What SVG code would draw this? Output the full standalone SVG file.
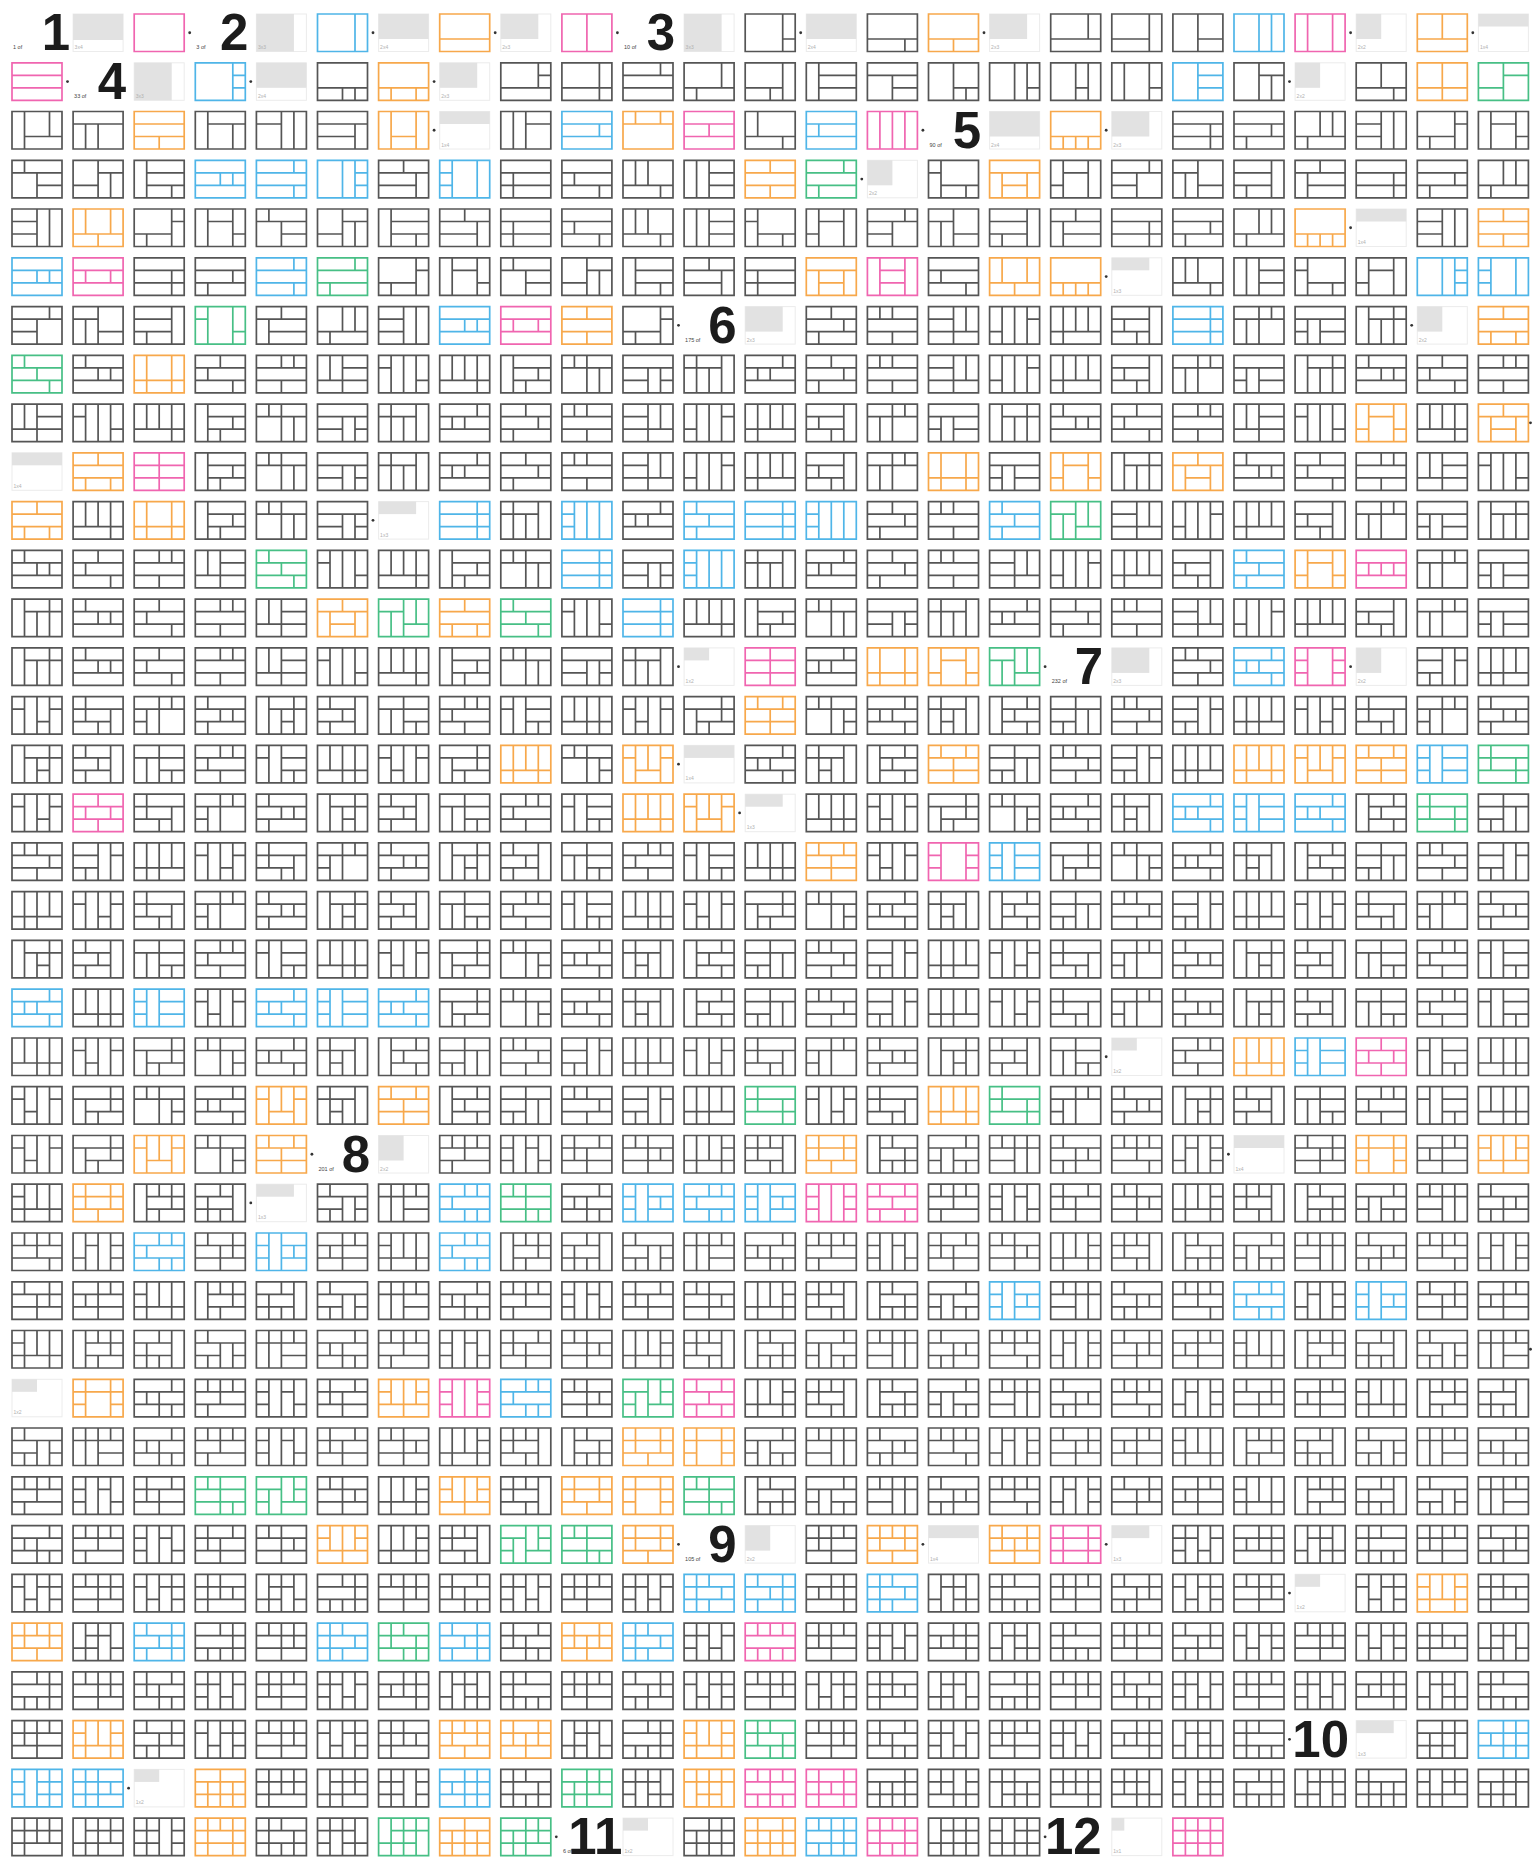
<svg xmlns="http://www.w3.org/2000/svg" xmlns:xlink="http://www.w3.org/1999/xlink" width="1532" height="1864" viewBox="0 0 1532 1864">
<style>
.t{fill:none;stroke-width:.136}
.o{stroke:#f7a84b}.b{stroke:#4fb5e8}.n{stroke:#47bf85}.p{stroke:#f065b0}
.sw{fill:#fff;stroke:#ececec;stroke-width:1}
.sf{fill:#e2e2e2}
.st{font-family:"Liberation Sans",Arial,sans-serif;font-size:5px;fill:#b0b0b0}
.lt{font-family:"Liberation Sans",Arial,sans-serif;font-size:5.5px;fill:#444}
.big{font-family:"Liberation Sans",Arial,sans-serif;font-size:51px;font-weight:700;fill:#1c1c1c;text-anchor:end}
.d{fill:#333}
</style>
<rect width="1532" height="1864" fill="#fff"/>
<defs>
<path id="p1" class="t" transform="scale(12.5)" d="M0 0H4V3H0Z"/>
<path id="b2" class="t" transform="scale(12.5)" d="M0 0H4V3H0ZM3 0V3"/>
<path id="o2" class="t" transform="scale(12.5)" d="M0 0H4V3H0ZM0 2H4"/>
<path id="p2" class="t" transform="scale(12.5)" d="M0 0H4V3H0ZM2 0V3"/>
<path id="g3a" class="t" transform="scale(12.5)" d="M0 0H4V3H0ZM3 0V3M3 2H4"/>
<path id="g3b" class="t" transform="scale(12.5)" d="M0 0H4V3H0ZM0 2H4M3 2V3"/>
<path id="o3a" class="t" transform="scale(12.5)" d="M0 0H4V3H0ZM0 2H4M2 2V3"/>
<path id="g3c" class="t" transform="scale(12.5)" d="M0 0H4V3H0ZM0 2H4M3 0V2"/>
<path id="g3d" class="t" transform="scale(12.5)" d="M0 0H4V3H0ZM3 0V3M0 2H3"/>
<path id="g3e" class="t" transform="scale(12.5)" d="M0 0H4V3H0ZM2 0V3M2 2H4"/>
<path id="b3" class="t" transform="scale(12.5)" d="M0 0H4V3H0ZM2 0V3M3 0V3"/>
<path id="p3a" class="t" transform="scale(12.5)" d="M0 0H4V3H0ZM1 0V3M3 0V3"/>
<path id="o3b" class="t" transform="scale(12.5)" d="M0 0H4V3H0ZM0 2H4M2 0V2"/>
<path id="p3b" class="t" transform="scale(12.5)" d="M0 0H4V3H0ZM0 1H4M0 2H4"/>
<path id="g4a" class="t" transform="scale(12.5)" d="M0 0H4V3H0ZM0 2H4M3 2V3M2 2V3"/>
<path id="g4b" class="t" transform="scale(12.5)" d="M0 0H4V3H0ZM0 2H4M3 0V2M3 1H4"/>
<path id="g4c" class="t" transform="scale(12.5)" d="M0 0H4V3H0ZM0 2H4M3 0V3"/>
<path id="g4d" class="t" transform="scale(12.5)" d="M0 0H4V3H0ZM0 2H4M3 0V2M1 2V3"/>
<path id="g4e" class="t" transform="scale(12.5)" d="M0 0H4V3H0ZM3 0V3M0 2H3M2 2V3"/>
<path id="g4f" class="t" transform="scale(12.5)" d="M0 0H4V3H0ZM2 0V3M2 2H4M3 2V3"/>
<path id="g4g" class="t" transform="scale(12.5)" d="M0 0H4V3H0ZM2 0V3M3 0V3M3 2H4"/>
<path id="g4h" class="t" transform="scale(12.5)" d="M0 0H4V3H0ZM2 0V3M3 0V3M2 2H3"/>
<path id="g4i" class="t" transform="scale(12.5)" d="M0 0H4V3H0ZM1 0V3M3 0V3M3 2H4"/>
<path id="g4j" class="t" transform="scale(12.5)" d="M0 0H4V3H0ZM2 0V3M2 1H4M3 1V3"/>
<path id="g4k" class="t" transform="scale(12.5)" d="M0 0H4V3H0ZM0 2H4M2 0V2M3 2V3"/>
<path id="g4l" class="t" transform="scale(12.5)" d="M0 0H4V3H0ZM0 1H4M0 2H4M3 0V1"/>
<path id="g4m" class="t" transform="scale(12.5)" d="M0 0H4V3H0ZM1 0V3M1 1H4M1 2H4"/>
<path id="g4n" class="t" transform="scale(12.5)" d="M0 0H4V3H0ZM0 1H4M2 1V3M2 2H4"/>
<path id="g4o" class="t" transform="scale(12.5)" d="M0 0H4V3H0ZM1 0V3M1 2H4M3 0V2"/>
<path id="g4p" class="t" transform="scale(12.5)" d="M0 0H4V3H0ZM0 1H4M1 1V3M2 1V3"/>
<path id="g4q" class="t" transform="scale(12.5)" d="M0 0H4V3H0ZM1 0V3M1 1H4M3 1V3"/>
<path id="g4r" class="t" transform="scale(12.5)" d="M0 0H4V3H0ZM2 0V3M0 1H2M3 0V3"/>
<path id="g4s" class="t" transform="scale(12.5)" d="M0 0H4V3H0ZM0 1H4M3 1V3M0 2H3"/>
<path id="g4t" class="t" transform="scale(12.5)" d="M0 0H4V3H0ZM1 0V3M2 0V3M2 1H4"/>
<path id="g4u" class="t" transform="scale(12.5)" d="M0 0H4V3H0ZM0 2H4M1 0V2M3 2V3"/>
<path id="o4a" class="t" transform="scale(12.5)" d="M0 0H4V3H0ZM0 2H4M1 2V3M3 2V3"/>
<path id="o4b" class="t" transform="scale(12.5)" d="M0 0H4V3H0ZM2 0V3M0 2H4"/>
<path id="o4c" class="t" transform="scale(12.5)" d="M0 0H4V3H0ZM0 1H4M0 2H4M2 2V3"/>
<path id="o4d" class="t" transform="scale(12.5)" d="M0 0H4V3H0ZM1 0V3M3 0V3M1 2H3"/>
<path id="o4e" class="t" transform="scale(12.5)" d="M0 0H4V3H0ZM0 1H4M1 0V1M3 0V1"/>
<path id="b4a" class="t" transform="scale(12.5)" d="M0 0H4V3H0ZM3 0V3M3 1H4M3 2H4"/>
<path id="b4b" class="t" transform="scale(12.5)" d="M0 0H4V3H0ZM2 0V3M2 1H4M2 2H4"/>
<path id="b4c" class="t" transform="scale(12.5)" d="M0 0H4V3H0ZM0 1H4M0 2H4M3 1V2"/>
<path id="b4d" class="t" transform="scale(12.5)" d="M0 0H4V3H0ZM0 1H4M0 2H4M1 1V2"/>
<path id="n4" class="t" transform="scale(12.5)" d="M0 0H4V3H0ZM2 0V3M2 1H4M0 2H2"/>
<path id="p4a" class="t" transform="scale(12.5)" d="M0 0H4V3H0ZM1 0V3M2 0V3M3 0V3"/>
<path id="p4b" class="t" transform="scale(12.5)" d="M0 0H4V3H0ZM0 1H4M0 2H4M2 1V2"/>
<path id="g5a" class="t" transform="scale(12.5)" d="M0 0H4V3H0ZM0 1H4M0 2H4M3 1V3"/>
<path id="g5b" class="t" transform="scale(12.5)" d="M0 0H4V3H0ZM0 1H4M0 2H4M3 1V2M1 2V3"/>
<path id="g5c" class="t" transform="scale(12.5)" d="M0 0H4V3H0ZM0 2H4M2 0V2M3 0V2M1 2V3"/>
<path id="g5d" class="t" transform="scale(12.5)" d="M0 0H4V3H0ZM2 0V3M3 0V3M0 1H2M0 2H2"/>
<path id="g5e" class="t" transform="scale(12.5)" d="M0 0H4V3H0ZM3 0V3M0 2H3M1 2V3M3 1H4"/>
<path id="g5f" class="t" transform="scale(12.5)" d="M0 0H4V3H0ZM1 0V3M3 0V3M1 1H3M3 2H4"/>
<path id="g5g" class="t" transform="scale(12.5)" d="M0 0H4V3H0ZM0 1H4M1 0V1M2 1V3M2 2H4"/>
<path id="g5h" class="t" transform="scale(12.5)" d="M0 0H4V3H0ZM2 0V3M0 2H2M2 1H4M3 1V3"/>
<path id="g5i" class="t" transform="scale(12.5)" d="M0 0H4V3H0ZM1 0V3M1 1H4M1 2H4M3 2V3"/>
<path id="g5j" class="t" transform="scale(12.5)" d="M0 0H4V3H0ZM0 1H4M2 0V1M3 1V3M0 2H3"/>
<path id="o5a" class="t" transform="scale(12.5)" d="M0 0H4V3H0ZM0 2H4M1 2V3M2 2V3M3 2V3"/>
<path id="o5b" class="t" transform="scale(12.5)" d="M0 0H4V3H0ZM0 1H4M0 2H4M2 0V1M2 2V3"/>
<path id="o5c" class="t" transform="scale(12.5)" d="M0 0H4V3H0ZM0 1H4M1 1V3M3 1V3M1 2H3"/>
<path id="o5d" class="t" transform="scale(12.5)" d="M0 0H4V3H0ZM0 2H4M1 0V2M3 0V2M2 2V3"/>
<path id="b5a" class="t" transform="scale(12.5)" d="M0 0H4V3H0ZM0 1H4M0 2H4M2 1V2M3 1V2"/>
<path id="b5b" class="t" transform="scale(12.5)" d="M0 0H4V3H0ZM0 1H4M0 2H4M3 0V1M3 2V3"/>
<path id="b5c" class="t" transform="scale(12.5)" d="M0 0H4V3H0ZM2 0V3M3 0V3M3 1H4M3 2H4"/>
<path id="b5d" class="t" transform="scale(12.5)" d="M0 0H4V3H0ZM1 0V3M3 0V3M0 1H1M0 2H1"/>
<path id="n5a" class="t" transform="scale(12.5)" d="M0 0H4V3H0ZM0 1H4M0 2H4M3 0V1M1 2V3"/>
<path id="n5b" class="t" transform="scale(12.5)" d="M0 0H4V3H0ZM1 0V3M3 0V3M0 1H1M3 2H4"/>
<path id="p5a" class="t" transform="scale(12.5)" d="M0 0H4V3H0ZM0 1H4M0 2H4M1 1V2M3 1V2"/>
<path id="p5b" class="t" transform="scale(12.5)" d="M0 0H4V3H0ZM1 0V3M3 0V3M1 1H3M1 2H3"/>
<path id="g6a" class="t" transform="scale(12.5)" d="M0 0H4V3H0ZM0 1H4M0 2H4M2 0V1M3 1V2M1 2V3"/>
<path id="g6b" class="t" transform="scale(12.5)" d="M0 0H4V3H0ZM0 1H4M0 2H4M1 0V1M2 0V1M2 2V3"/>
<path id="g6c" class="t" transform="scale(12.5)" d="M0 0H4V3H0ZM2 0V3M0 1H2M0 2H2M2 2H4M3 0V2"/>
<path id="g6d" class="t" transform="scale(12.5)" d="M0 0H4V3H0ZM1 0V3M2 0V3M3 0V3M3 1H4M0 2H1"/>
<path id="g6e" class="t" transform="scale(12.5)" d="M0 0H4V3H0ZM0 2H4M1 0V2M2 0V2M3 0V2M1 2V3"/>
<path id="g6f" class="t" transform="scale(12.5)" d="M0 0H4V3H0ZM3 0V3M0 1H3M0 2H3M1 1V2M2 2V3"/>
<path id="g6g" class="t" transform="scale(12.5)" d="M0 0H4V3H0ZM2 0V3M0 1H2M1 1V3M2 1H4M3 0V1"/>
<path id="g6h" class="t" transform="scale(12.5)" d="M0 0H4V3H0ZM0 1H4M1 1V3M0 2H1M2 1V3M2 2H4"/>
<path id="g6i" class="t" transform="scale(12.5)" d="M0 0H4V3H0ZM1 0V3M1 1H4M2 1V3M3 1V3M3 0V1"/>
<path id="g6j" class="t" transform="scale(12.5)" d="M0 0H4V3H0ZM0 1H4M0 2H4M1 0V1M2 1V2M3 1V2"/>
<path id="o6a" class="t" transform="scale(12.5)" d="M0 0H4V3H0ZM0 1H4M0 2H4M2 0V1M1 2V3M3 2V3"/>
<path id="o6b" class="t" transform="scale(12.5)" d="M0 0H4V3H0ZM0 2H4M1 0V2M3 0V2M1 2V3M3 2V3"/>
<path id="o6c" class="t" transform="scale(12.5)" d="M0 0H4V3H0ZM1 0V3M3 0V3M1 1H3M0 2H1M3 2H4"/>
<path id="o6d" class="t" transform="scale(12.5)" d="M0 0H4V3H0ZM0 1H4M2 0V1M1 1V3M3 1V3M1 2H3"/>
<path id="b6a" class="t" transform="scale(12.5)" d="M0 0H4V3H0ZM3 0V3M0 1H4M0 2H4"/>
<path id="b6b" class="t" transform="scale(12.5)" d="M0 0H4V3H0ZM1 0V3M2 0V3M0 1H1M0 2H1M3 0V3"/>
<path id="b6c" class="t" transform="scale(12.5)" d="M0 0H4V3H0ZM0 1H4M0 2H4M1 0V1M1 2V3M2 1V2"/>
<path id="n6a" class="t" transform="scale(12.5)" d="M0 0H4V3H0ZM0 1H4M0 2H4M1 0V1M3 2V3M2 1V2"/>
<path id="n6b" class="t" transform="scale(12.5)" d="M0 0H4V3H0ZM2 0V3M0 1H2M2 2H4M1 1V3M3 0V2"/>
<path id="p6a" class="t" transform="scale(12.5)" d="M0 0H4V3H0ZM2 0V3M0 1H4M0 2H4"/>
<path id="p6b" class="t" transform="scale(12.5)" d="M0 0H4V3H0ZM0 1H4M0 2H4M1 1V2M2 1V2M3 1V2"/>
<path id="g7a" class="t" transform="scale(12.5)" d="M0 0H4V3H0ZM0 1H4M0 2H4M1 0V1M2 0V1M3 1V2M2 2V3"/>
<path id="g7b" class="t" transform="scale(12.5)" d="M0 0H4V3H0ZM2 0V3M0 1H2M0 2H2M1 2V3M3 0V3M3 1H4"/>
<path id="g7c" class="t" transform="scale(12.5)" d="M0 0H4V3H0ZM0 2H4M1 0V2M2 0V2M3 0V2M1 2V3M2 2V3"/>
<path id="g7d" class="t" transform="scale(12.5)" d="M0 0H4V3H0ZM1 0V3M2 0V3M3 0V3M0 1H1M2 2H3M3 1H4"/>
<path id="g7e" class="t" transform="scale(12.5)" d="M0 0H4V3H0ZM0 1H4M3 1V3M0 2H3M1 1V2M2 2V3M1 0V1"/>
<path id="g7f" class="t" transform="scale(12.5)" d="M0 0H4V3H0ZM2 0V3M0 1H2M1 1V3M0 2H1M2 1H4M3 0V1"/>
<path id="g7g" class="t" transform="scale(12.5)" d="M0 0H4V3H0ZM0 1H4M0 2H4M1 0V1M2 1V2M3 1V2M1 2V3"/>
<path id="g7h" class="t" transform="scale(12.5)" d="M0 0H4V3H0ZM1 0V3M1 1H4M2 1V3M3 1V3M3 0V1M2 2H3"/>
<path id="g7i" class="t" transform="scale(12.5)" d="M0 0H4V3H0ZM3 0V3M0 1H3M0 2H3M1 0V1M2 1V2M1 2V3"/>
<path id="g7j" class="t" transform="scale(12.5)" d="M0 0H4V3H0ZM2 0V3M0 1H4M2 2H4M1 1V3M3 2V3"/>
<path id="o7a" class="t" transform="scale(12.5)" d="M0 0H4V3H0ZM0 1H4M0 2H4M1 0V1M3 0V1M2 1V2M2 2V3"/>
<path id="o7b" class="t" transform="scale(12.5)" d="M0 0H4V3H0ZM0 2H4M1 0V2M2 0V2M3 0V2M1 2V3M3 2V3"/>
<path id="o7c" class="t" transform="scale(12.5)" d="M0 0H4V3H0ZM1 0V3M3 0V3M0 1H1M3 1H4M1 2H3M2 0V2"/>
<path id="b7a" class="t" transform="scale(12.5)" d="M0 0H4V3H0ZM0 1H4M0 2H4M3 0V1M3 2V3M1 1V2M2 1V2"/>
<path id="b7b" class="t" transform="scale(12.5)" d="M0 0H4V3H0ZM1 0V3M2 0V3M0 1H1M0 2H1M2 1H4M2 2H4"/>
<path id="n7a" class="t" transform="scale(12.5)" d="M0 0H4V3H0ZM0 1H4M0 2H4M1 0V1M3 2V3M1 1V2M3 1V2"/>
<path id="p7a" class="t" transform="scale(12.5)" d="M0 0H4V3H0ZM1 0V3M3 0V3M0 1H1M0 2H1M3 1H4M3 2H4"/>
<path id="p7b" class="t" transform="scale(12.5)" d="M0 0H4V3H0ZM0 1H4M0 2H4M2 0V1M2 2V3M1 1V2M3 1V2"/>
<path id="g8a" class="t" transform="scale(12.5)" d="M0 0H4V3H0ZM0 1H4M0 2H4M1 0V1M2 0V1M3 0V1M2 1V2M1 2V3"/>
<path id="g8b" class="t" transform="scale(12.5)" d="M0 0H4V3H0ZM1 0V3M2 0V3M3 0V3M0 1H1M0 2H1M2 1H3M3 2H4"/>
<path id="g8c" class="t" transform="scale(12.5)" d="M0 0H4V3H0ZM0 1H4M0 2H4M1 0V1M3 0V1M1 1V2M2 1V2M2 2V3"/>
<path id="g8d" class="t" transform="scale(12.5)" d="M0 0H4V3H0ZM2 0V3M0 1H4M0 2H4M1 0V1M3 1V2"/>
<path id="g8e" class="t" transform="scale(12.5)" d="M0 0H4V3H0ZM0 2H4M1 0V3M2 0V2M3 0V3M3 1H4"/>
<path id="g8f" class="t" transform="scale(12.5)" d="M0 0H4V3H0ZM3 0V3M0 1H3M0 2H3M1 0V1M2 0V1M1 1V2M2 2V3"/>
<path id="g8g" class="t" transform="scale(12.5)" d="M0 0H4V3H0ZM1 0V3M1 1H4M1 2H4M2 0V1M3 1V2M2 2V3M3 2V3"/>
<path id="g8h" class="t" transform="scale(12.5)" d="M0 0H4V3H0ZM0 1H4M1 1V3M2 1V3M0 2H1M3 0V1M2 2H4M3 2V3"/>
<path id="g8i" class="t" transform="scale(12.5)" d="M0 0H4V3H0ZM2 0V3M0 1H2M0 2H2M1 0V1M2 1H4M3 0V3"/>
<path id="g8j" class="t" transform="scale(12.5)" d="M0 0H4V3H0ZM0 1H4M0 2H4M1 0V1M2 1V2M3 1V2M1 2V3M2 2V3"/>
<path id="o8a" class="t" transform="scale(12.5)" d="M0 0H4V3H0ZM0 1H4M0 2H4M1 0V1M3 0V1M1 1V2M3 1V2M2 2V3"/>
<path id="o8b" class="t" transform="scale(12.5)" d="M0 0H4V3H0ZM1 0V3M3 0V3M0 1H1M0 2H1M3 1H4M3 2H4M1 1H3"/>
<path id="o8c" class="t" transform="scale(12.5)" d="M0 0H4V3H0ZM0 2H4M1 0V2M2 0V2M3 0V2M0 1H1M3 1H4M2 2V3"/>
<path id="b8a" class="t" transform="scale(12.5)" d="M0 0H4V3H0ZM0 1H4M0 2H4M2 0V1M3 0V1M2 2V3M3 2V3M1 1V2"/>
<path id="b8b" class="t" transform="scale(12.5)" d="M0 0H4V3H0ZM1 0V3M2 0V3M0 1H1M0 2H1M2 1H4M2 2H4M3 1V2"/>
<path id="n8a" class="t" transform="scale(12.5)" d="M0 0H4V3H0ZM0 1H4M0 2H4M1 0V1M2 0V1M2 2V3M3 2V3M2 1V2"/>
<path id="n8b" class="t" transform="scale(12.5)" d="M0 0H4V3H0ZM2 0V3M0 1H2M2 2H4M1 1V3M3 0V2M0 2H1M3 1H4"/>
<path id="p8a" class="t" transform="scale(12.5)" d="M0 0H4V3H0ZM1 0V3M2 0V3M3 0V3M0 1H1M0 2H1M3 1H4M3 2H4"/>
<path id="p8b" class="t" transform="scale(12.5)" d="M0 0H4V3H0ZM0 1H4M0 2H4M1 0V1M3 0V1M1 2V3M3 2V3M2 1V2"/>
<path id="g9a" class="t" transform="scale(12.5)" d="M0 0H4V3H0ZM0 1H4M0 2H4M1 0V1M2 0V1M3 0V1M1 1V2M2 1V2M2 2V3"/>
<path id="g9b" class="t" transform="scale(12.5)" d="M0 0H4V3H0ZM1 0V3M2 0V3M3 0V3M0 1H1M0 2H1M1 1H2M2 2H3M3 1H4"/>
<path id="g9c" class="t" transform="scale(12.5)" d="M0 0H4V3H0ZM0 1H4M0 2H4M2 0V1M3 0V1M1 1V2M2 1V2M3 1V2M3 2V3"/>
<path id="g9d" class="t" transform="scale(12.5)" d="M0 0H4V3H0ZM1 0V3M2 0V3M3 0V3M0 2H1M1 1H2M2 1H3M2 2H3M3 2H4"/>
<path id="g9e" class="t" transform="scale(12.5)" d="M0 0H4V3H0ZM0 1H4M0 2H4M1 0V1M2 0V1M1 1V2M1 2V3M2 2V3M3 2V3"/>
<path id="g9f" class="t" transform="scale(12.5)" d="M0 0H4V3H0ZM2 0V3M0 1H4M0 2H4M1 0V1M3 0V1M1 1V2"/>
<path id="g9g" class="t" transform="scale(12.5)" d="M0 0H4V3H0ZM0 1H4M0 2H4M1 0V1M3 0V1M2 1V2M3 1V2M1 2V3M2 2V3"/>
<path id="g9h" class="t" transform="scale(12.5)" d="M0 0H4V3H0ZM1 0V3M2 0V3M3 0V3M0 1H1M1 2H2M2 1H3M3 1H4M3 2H4"/>
<path id="o9a" class="t" transform="scale(12.5)" d="M0 0H4V3H0ZM0 1H4M0 2H4M1 0V1M2 0V1M3 0V1M1 1V2M3 1V2M2 2V3"/>
<path id="o9b" class="t" transform="scale(12.5)" d="M0 0H4V3H0ZM0 1H4M0 2H4M1 0V1M3 0V1M1 1V2M2 1V2M3 1V2M2 2V3"/>
<path id="o9c" class="t" transform="scale(12.5)" d="M0 0H4V3H0ZM0 2H4M1 0V3M2 0V2M3 0V3M0 1H1M3 1H4"/>
<path id="b9a" class="t" transform="scale(12.5)" d="M0 0H4V3H0ZM0 1H4M0 2H4M1 0V1M2 0V1M1 2V3M2 2V3M1 1V2M3 1V2"/>
<path id="b9b" class="t" transform="scale(12.5)" d="M0 0H4V3H0ZM0 1H4M0 2H4M1 0V1M3 0V1M2 1V2M3 1V2M1 2V3M3 2V3"/>
<path id="n9a" class="t" transform="scale(12.5)" d="M0 0H4V3H0ZM0 1H4M0 2H4M1 0V1M2 0V1M2 2V3M3 2V3M1 1V2M3 1V2"/>
<path id="p9a" class="t" transform="scale(12.5)" d="M0 0H4V3H0ZM0 1H4M0 2H4M1 0V1M3 0V1M1 2V3M3 2V3M1 1V2M3 1V2"/>
<path id="p9b" class="t" transform="scale(12.5)" d="M0 0H4V3H0ZM0 1H4M0 2H4M1 0V1M2 0V1M3 0V1M1 2V3M2 2V3M3 2V3"/>
<path id="g10a" class="t" transform="scale(12.5)" d="M0 0H4V3H0ZM1 1V3M2 0V3M3 0V3M0 1H4M0 2H3"/>
<path id="g10b" class="t" transform="scale(12.5)" d="M0 0H4V3H0ZM1 0V3M2 0V2M3 0V2M0 1H4M0 2H4"/>
<path id="g10c" class="t" transform="scale(12.5)" d="M0 0H4V3H0ZM1 0V3M2 0V3M3 0V2M1 1H4M0 2H4"/>
<path id="g10d" class="t" transform="scale(12.5)" d="M0 0H4V3H0ZM1 0V3M2 0V3M3 0V3M0 1H2M3 1H4M0 2H2M3 2H4"/>
<path id="g10e" class="t" transform="scale(12.5)" d="M0 0H4V3H0ZM1 0V3M2 0V1M2 2V3M3 1V3M0 1H4M0 2H4"/>
<path id="g10f" class="t" transform="scale(12.5)" d="M0 0H4V3H0ZM1 0V3M2 0V3M3 0V3M0 1H3M0 2H1M2 2H4"/>
<path id="g10g" class="t" transform="scale(12.5)" d="M0 0H4V3H0ZM1 1V3M2 1V3M3 0V3M0 1H4M0 2H4"/>
<path id="g10h" class="t" transform="scale(12.5)" d="M0 0H4V3H0ZM1 0V2M2 0V3M3 0V3M0 1H2M3 1H4M0 2H4"/>
<path id="o10a" class="t" transform="scale(12.5)" d="M0 0H4V3H0ZM1 1V3M2 0V3M3 1V3M0 1H4M0 2H4"/>
<path id="o10b" class="t" transform="scale(12.5)" d="M0 0H4V3H0ZM1 0V3M2 0V3M3 0V3M0 1H4M1 2H3"/>
<path id="o10c" class="t" transform="scale(12.5)" d="M0 0H4V3H0ZM1 0V3M2 0V1M3 0V3M0 1H4M0 2H4"/>
<path id="b10a" class="t" transform="scale(12.5)" d="M0 0H4V3H0ZM1 1V2M2 0V3M3 0V3M0 1H4M0 2H4"/>
<path id="b10b" class="t" transform="scale(12.5)" d="M0 0H4V3H0ZM1 0V3M2 0V3M3 0V3M0 1H1M2 1H4M0 2H1M2 2H4"/>
<path id="b10c" class="t" transform="scale(12.5)" d="M0 0H4V3H0ZM1 0V3M2 0V3M3 1V2M0 1H4M0 2H4"/>
<path id="n10a" class="t" transform="scale(12.5)" d="M0 0H4V3H0ZM1 1V3M2 0V3M3 0V2M0 1H4M0 2H4"/>
<path id="n10b" class="t" transform="scale(12.5)" d="M0 0H4V3H0ZM1 0V3M2 0V3M3 0V3M1 1H4M0 2H3"/>
<path id="p10a" class="t" transform="scale(12.5)" d="M0 0H4V3H0ZM1 0V1M1 2V3M2 0V3M3 0V1M3 2V3M0 1H4M0 2H4"/>
<path id="p10b" class="t" transform="scale(12.5)" d="M0 0H4V3H0ZM1 0V3M2 1V2M3 0V3M0 1H4M0 2H4"/>
<path id="g11a" class="t" transform="scale(12.5)" d="M0 0H4V3H0ZM1 1V3M2 0V3M3 0V3M0 1H4M0 2H4"/>
<path id="o11" class="t" transform="scale(12.5)" d="M0 0H4V3H0ZM1 0V3M2 1V3M3 0V3M0 1H4M0 2H4"/>
<path id="b11" class="t" transform="scale(12.5)" d="M0 0H4V3H0ZM1 0V1M1 2V3M2 0V3M3 0V3M0 1H4M0 2H4"/>
<path id="p11" class="t" transform="scale(12.5)" d="M0 0H4V3H0ZM1 0V3M2 0V1M2 2V3M3 0V3M0 1H4M0 2H4"/>
<path id="g11b" class="t" transform="scale(12.5)" d="M0 0H4V3H0ZM1 0V3M2 0V3M3 0V3M1 1H4M0 2H4"/>
<path id="g11c" class="t" transform="scale(12.5)" d="M0 0H4V3H0ZM1 0V3M2 0V3M3 0V3M0 1H1M2 1H4M0 2H4"/>
<path id="p12" class="t" transform="scale(12.5)" d="M0 0H4V3H0ZM1 0V3M2 0V3M3 0V3M0 1H4M0 2H4"/>
<use id="g5ah" href="#g5a" transform="matrix(-1 0 0 1 50 0)"/>
<use id="g5bh" href="#g5b" transform="matrix(-1 0 0 1 50 0)"/>
<use id="g5ch" href="#g5c" transform="matrix(-1 0 0 1 50 0)"/>
<use id="g5dh" href="#g5d" transform="matrix(-1 0 0 1 50 0)"/>
<use id="g5eh" href="#g5e" transform="matrix(-1 0 0 1 50 0)"/>
<use id="g5fh" href="#g5f" transform="matrix(-1 0 0 1 50 0)"/>
<use id="g5gh" href="#g5g" transform="matrix(-1 0 0 1 50 0)"/>
<use id="g5hh" href="#g5h" transform="matrix(-1 0 0 1 50 0)"/>
<use id="g5ih" href="#g5i" transform="matrix(-1 0 0 1 50 0)"/>
<use id="g5jh" href="#g5j" transform="matrix(-1 0 0 1 50 0)"/>
<use id="g6ah" href="#g6a" transform="matrix(-1 0 0 1 50 0)"/>
<use id="g6bh" href="#g6b" transform="matrix(-1 0 0 1 50 0)"/>
<use id="g6ch" href="#g6c" transform="matrix(-1 0 0 1 50 0)"/>
<use id="g6dh" href="#g6d" transform="matrix(-1 0 0 1 50 0)"/>
<use id="g6eh" href="#g6e" transform="matrix(-1 0 0 1 50 0)"/>
<use id="g6fh" href="#g6f" transform="matrix(-1 0 0 1 50 0)"/>
<use id="g6gh" href="#g6g" transform="matrix(-1 0 0 1 50 0)"/>
<use id="g6hh" href="#g6h" transform="matrix(-1 0 0 1 50 0)"/>
<use id="g6ih" href="#g6i" transform="matrix(-1 0 0 1 50 0)"/>
<use id="g6jh" href="#g6j" transform="matrix(-1 0 0 1 50 0)"/>
<use id="g7ah" href="#g7a" transform="matrix(-1 0 0 1 50 0)"/>
<use id="g7bh" href="#g7b" transform="matrix(-1 0 0 1 50 0)"/>
<use id="g7ch" href="#g7c" transform="matrix(-1 0 0 1 50 0)"/>
<use id="g7dh" href="#g7d" transform="matrix(-1 0 0 1 50 0)"/>
<use id="g7eh" href="#g7e" transform="matrix(-1 0 0 1 50 0)"/>
<use id="g7fh" href="#g7f" transform="matrix(-1 0 0 1 50 0)"/>
<use id="g7gh" href="#g7g" transform="matrix(-1 0 0 1 50 0)"/>
<use id="g7hh" href="#g7h" transform="matrix(-1 0 0 1 50 0)"/>
<use id="g7ih" href="#g7i" transform="matrix(-1 0 0 1 50 0)"/>
<use id="g7jh" href="#g7j" transform="matrix(-1 0 0 1 50 0)"/>
<use id="g8ah" href="#g8a" transform="matrix(-1 0 0 1 50 0)"/>
<use id="g8bh" href="#g8b" transform="matrix(-1 0 0 1 50 0)"/>
<use id="g8ch" href="#g8c" transform="matrix(-1 0 0 1 50 0)"/>
<use id="g8dh" href="#g8d" transform="matrix(-1 0 0 1 50 0)"/>
<use id="g8eh" href="#g8e" transform="matrix(-1 0 0 1 50 0)"/>
<use id="g8fh" href="#g8f" transform="matrix(-1 0 0 1 50 0)"/>
<use id="g8gh" href="#g8g" transform="matrix(-1 0 0 1 50 0)"/>
<use id="g8hh" href="#g8h" transform="matrix(-1 0 0 1 50 0)"/>
<use id="g8ih" href="#g8i" transform="matrix(-1 0 0 1 50 0)"/>
<use id="g8jh" href="#g8j" transform="matrix(-1 0 0 1 50 0)"/>
<use id="g9ah" href="#g9a" transform="matrix(-1 0 0 1 50 0)"/>
<use id="g9bh" href="#g9b" transform="matrix(-1 0 0 1 50 0)"/>
<use id="g9ch" href="#g9c" transform="matrix(-1 0 0 1 50 0)"/>
<use id="g9dh" href="#g9d" transform="matrix(-1 0 0 1 50 0)"/>
<use id="g9eh" href="#g9e" transform="matrix(-1 0 0 1 50 0)"/>
<use id="g9fh" href="#g9f" transform="matrix(-1 0 0 1 50 0)"/>
<use id="g9gh" href="#g9g" transform="matrix(-1 0 0 1 50 0)"/>
<use id="g9hh" href="#g9h" transform="matrix(-1 0 0 1 50 0)"/>
<use id="g10ah" href="#g10a" transform="matrix(-1 0 0 1 50 0)"/>
<use id="g10bh" href="#g10b" transform="matrix(-1 0 0 1 50 0)"/>
<use id="g10ch" href="#g10c" transform="matrix(-1 0 0 1 50 0)"/>
<use id="g10dh" href="#g10d" transform="matrix(-1 0 0 1 50 0)"/>
<use id="g10eh" href="#g10e" transform="matrix(-1 0 0 1 50 0)"/>
<use id="g10fh" href="#g10f" transform="matrix(-1 0 0 1 50 0)"/>
<use id="g10gh" href="#g10g" transform="matrix(-1 0 0 1 50 0)"/>
<use id="g10hh" href="#g10h" transform="matrix(-1 0 0 1 50 0)"/>
</defs>
<g id="tilings" stroke="#555">
<g id="row0" transform="translate(0,14)"><use href="#p1" x="134.2" class="p"/><use href="#b2" x="317.5" class="b"/><use href="#o2" x="439.7" class="o"/><use href="#p2" x="561.9" class="p"/><use href="#g3a" x="745.2"/><use href="#g3b" x="867.4"/><use href="#o3a" x="928.5" class="o"/><use href="#g3c" x="1050.7"/><use href="#g3d" x="1111.8"/><use href="#g3e" x="1172.9"/><use href="#b3" x="1234" class="b"/><use href="#p3a" x="1295.1" class="p"/><use href="#o3b" x="1417.3" class="o"/></g>
<g id="row1" transform="translate(0,62.8)"><use href="#p3b" x="12" class="p"/><use href="#b4a" x="195.3" class="b"/><use href="#g4a" x="317.5"/><use href="#o4a" x="378.6" class="o"/><use href="#g4b" x="500.8"/><use href="#g4c" x="561.9"/><use href="#g4l" x="623"/><use href="#g4d" x="684.1"/><use href="#g4e" x="745.2"/><use href="#g4m" x="806.3"/><use href="#g4n" x="867.4"/><use href="#g4f" x="928.5"/><use href="#g4g" x="989.6"/><use href="#g4h" x="1050.7"/><use href="#g4i" x="1111.8"/><use href="#b4b" x="1172.9" class="b"/><use href="#g4j" x="1234"/><use href="#g4k" x="1356.2"/><use href="#o4b" x="1417.3" class="o"/><use href="#n4" x="1478.4" class="n"/></g>
<g id="row2" transform="translate(0,111.5)"><use href="#g4o" x="12"/><use href="#g4p" x="73.1"/><use href="#o4c" x="134.2" class="o"/><use href="#g4q" x="195.3"/><use href="#g4r" x="256.4"/><use href="#g4s" x="317.5"/><use href="#o4d" x="378.6" class="o"/><use href="#g4t" x="500.8"/><use href="#b4c" x="561.9" class="b"/><use href="#o4e" x="623" class="o"/><use href="#p4b" x="684.1" class="p"/><use href="#g4u" x="745.2"/><use href="#b4d" x="806.3" class="b"/><use href="#p4a" x="867.4" class="p"/><use href="#o5a" x="1050.7" class="o"/><use href="#g5a" x="1172.9"/><use href="#g5b" x="1234"/><use href="#g5c" x="1295.1"/><use href="#g5d" x="1356.2"/><use href="#g5e" x="1417.3"/><use href="#g5f" x="1478.4"/></g>
<g id="row3" transform="translate(0,160.3)"><use href="#g5g" x="12"/><use href="#g5h" x="73.1"/><use href="#g5i" x="134.2"/><use href="#b5a" x="195.3" class="b"/><use href="#b5b" x="256.4" class="b"/><use href="#b5c" x="317.5" class="b"/><use href="#g5j" x="378.6"/><use href="#b5d" x="439.7" class="b"/><use href="#g5ah" x="500.8"/><use href="#g5bh" x="561.9"/><use href="#g5ch" x="623"/><use href="#g5dh" x="684.1"/><use href="#o5b" x="745.2" class="o"/><use href="#n5a" x="806.3" class="n"/><use href="#g5eh" x="928.5"/><use href="#o5c" x="989.6" class="o"/><use href="#g5fh" x="1050.7"/><use href="#g5gh" x="1111.8"/><use href="#g5hh" x="1172.9"/><use href="#g5ih" x="1234"/><use href="#g5jh" x="1295.1"/><use href="#g5a" x="1356.2"/><use href="#g5b" x="1417.3"/><use href="#g5c" x="1478.4"/></g>
<g id="row4" transform="translate(0,209)"><use href="#g5d" x="12"/><use href="#o5d" x="73.1" class="o"/><use href="#g5e" x="134.2"/><use href="#g5f" x="195.3"/><use href="#g5g" x="256.4"/><use href="#g5h" x="317.5"/><use href="#g5i" x="378.6"/><use href="#g5j" x="439.7"/><use href="#g5ah" x="500.8"/><use href="#g5bh" x="561.9"/><use href="#g5ch" x="623"/><use href="#g5dh" x="684.1"/><use href="#g5eh" x="745.2"/><use href="#g5fh" x="806.3"/><use href="#g5gh" x="867.4"/><use href="#g5hh" x="928.5"/><use href="#g5ih" x="989.6"/><use href="#g5jh" x="1050.7"/><use href="#g5a" x="1111.8"/><use href="#g5b" x="1172.9"/><use href="#g5c" x="1234"/><use href="#o5a" x="1295.1" class="o"/><use href="#g5d" x="1417.3"/><use href="#o5b" x="1478.4" class="o"/></g>
<g id="row5" transform="translate(0,257.8)"><use href="#b5a" x="12" class="b"/><use href="#p5a" x="73.1" class="p"/><use href="#g5a" x="134.2"/><use href="#g5b" x="195.3"/><use href="#b5b" x="256.4" class="b"/><use href="#n5a" x="317.5" class="n"/><use href="#g5e" x="378.6"/><use href="#g5f" x="439.7"/><use href="#g5g" x="500.8"/><use href="#g5h" x="561.9"/><use href="#g5i" x="623"/><use href="#g5j" x="684.1"/><use href="#g5ah" x="745.2"/><use href="#o5c" x="806.3" class="o"/><use href="#p5b" x="867.4" class="p"/><use href="#g5bh" x="928.5"/><use href="#o5d" x="989.6" class="o"/><use href="#o5a" x="1050.7" class="o"/><use href="#g5ch" x="1172.9"/><use href="#g5dh" x="1234"/><use href="#g5eh" x="1295.1"/><use href="#g5fh" x="1356.2"/><use href="#b5c" x="1417.3" class="b"/><use href="#b5d" x="1478.4" class="b"/></g>
<g id="row6" transform="translate(0,306.6)"><use href="#g5gh" x="12"/><use href="#g5hh" x="73.1"/><use href="#g5ih" x="134.2"/><use href="#n5b" x="195.3" class="n"/><use href="#g5jh" x="256.4"/><use href="#g5c" x="317.5"/><use href="#g5d" x="378.6"/><use href="#b5a" x="439.7" class="b"/><use href="#p5a" x="500.8" class="p"/><use href="#o5b" x="561.9" class="o"/><use href="#g5e" x="623"/><use href="#g6a" x="806.3"/><use href="#g6b" x="867.4"/><use href="#g6c" x="928.5"/><use href="#g6d" x="989.6"/><use href="#g6e" x="1050.7"/><use href="#g6f" x="1111.8"/><use href="#b6a" x="1172.9" class="b"/><use href="#g6g" x="1234"/><use href="#g6h" x="1295.1"/><use href="#g6i" x="1356.2"/><use href="#o6a" x="1478.4" class="o"/></g>
<g id="row7" transform="translate(0,355.3)"><use href="#n6a" x="12" class="n"/><use href="#g6j" x="73.1"/><use href="#o6b" x="134.2" class="o"/><use href="#g6ah" x="195.3"/><use href="#g6bh" x="256.4"/><use href="#g6ch" x="317.5"/><use href="#g6dh" x="378.6"/><use href="#g6eh" x="439.7"/><use href="#g6fh" x="500.8"/><use href="#g6gh" x="561.9"/><use href="#g6hh" x="623"/><use href="#g6ih" x="684.1"/><use href="#g6jh" x="745.2"/><use href="#g6a" x="806.3"/><use href="#g6b" x="867.4"/><use href="#g6c" x="928.5"/><use href="#g6d" x="989.6"/><use href="#g6e" x="1050.7"/><use href="#g6f" x="1111.8"/><use href="#g6g" x="1172.9"/><use href="#g6h" x="1234"/><use href="#g6i" x="1295.1"/><use href="#g6j" x="1356.2"/><use href="#g6ah" x="1417.3"/><use href="#g6bh" x="1478.4"/></g>
<g id="row8" transform="translate(0,404.1)"><use href="#g6ch" x="12"/><use href="#g6dh" x="73.1"/><use href="#g6eh" x="134.2"/><use href="#g6fh" x="195.3"/><use href="#g6gh" x="256.4"/><use href="#g6hh" x="317.5"/><use href="#g6ih" x="378.6"/><use href="#g6jh" x="439.7"/><use href="#g6a" x="500.8"/><use href="#g6b" x="561.9"/><use href="#g6c" x="623"/><use href="#g6d" x="684.1"/><use href="#g6e" x="745.2"/><use href="#g6f" x="806.3"/><use href="#g6g" x="867.4"/><use href="#g6h" x="928.5"/><use href="#g6i" x="989.6"/><use href="#g6j" x="1050.7"/><use href="#g6ah" x="1111.8"/><use href="#g6bh" x="1172.9"/><use href="#g6ch" x="1234"/><use href="#g6dh" x="1295.1"/><use href="#o6c" x="1356.2" class="o"/><use href="#g6eh" x="1417.3"/><use href="#o6d" x="1478.4" class="o"/></g>
<g id="row9" transform="translate(0,452.8)"><use href="#o6a" x="73.1" class="o"/><use href="#p6a" x="134.2" class="p"/><use href="#g6fh" x="195.3"/><use href="#g6gh" x="256.4"/><use href="#g6hh" x="317.5"/><use href="#g6ih" x="378.6"/><use href="#g6jh" x="439.7"/><use href="#g6a" x="500.8"/><use href="#g6b" x="561.9"/><use href="#g6c" x="623"/><use href="#g6d" x="684.1"/><use href="#g6e" x="745.2"/><use href="#g6f" x="806.3"/><use href="#g6g" x="867.4"/><use href="#o6b" x="928.5" class="o"/><use href="#g6h" x="989.6"/><use href="#o6c" x="1050.7" class="o"/><use href="#g6i" x="1111.8"/><use href="#o6d" x="1172.9" class="o"/><use href="#g6j" x="1234"/><use href="#g6ah" x="1295.1"/><use href="#g6bh" x="1356.2"/><use href="#g6ch" x="1417.3"/><use href="#g6dh" x="1478.4"/></g>
<g id="row10" transform="translate(0,501.6)"><use href="#o6a" x="12" class="o"/><use href="#g6eh" x="73.1"/><use href="#o6b" x="134.2" class="o"/><use href="#g6fh" x="195.3"/><use href="#g6gh" x="256.4"/><use href="#g6hh" x="317.5"/><use href="#b6a" x="439.7" class="b"/><use href="#g6ih" x="500.8"/><use href="#b6b" x="561.9" class="b"/><use href="#g6jh" x="623"/><use href="#b6c" x="684.1" class="b"/><use href="#b6a" x="745.2" class="b"/><use href="#b6b" x="806.3" class="b"/><use href="#g6a" x="867.4"/><use href="#g6b" x="928.5"/><use href="#b6c" x="989.6" class="b"/><use href="#n6b" x="1050.7" class="n"/><use href="#g6c" x="1111.8"/><use href="#g6d" x="1172.9"/><use href="#g6e" x="1234"/><use href="#g6f" x="1295.1"/><use href="#g6g" x="1356.2"/><use href="#g6h" x="1417.3"/><use href="#g6i" x="1478.4"/></g>
<g id="row11" transform="translate(0,550.4)"><use href="#g6j" x="12"/><use href="#g6ah" x="73.1"/><use href="#g6bh" x="134.2"/><use href="#g6ch" x="195.3"/><use href="#n6a" x="256.4" class="n"/><use href="#g6dh" x="317.5"/><use href="#g6eh" x="378.6"/><use href="#g6fh" x="439.7"/><use href="#g6gh" x="500.8"/><use href="#b6a" x="561.9" class="b"/><use href="#g6hh" x="623"/><use href="#b6b" x="684.1" class="b"/><use href="#g6ih" x="745.2"/><use href="#g6jh" x="806.3"/><use href="#g6a" x="867.4"/><use href="#g6b" x="928.5"/><use href="#g6c" x="989.6"/><use href="#g6d" x="1050.7"/><use href="#g6e" x="1111.8"/><use href="#g6f" x="1172.9"/><use href="#b6c" x="1234" class="b"/><use href="#o6c" x="1295.1" class="o"/><use href="#p6b" x="1356.2" class="p"/><use href="#g6g" x="1417.3"/><use href="#g6h" x="1478.4"/></g>
<g id="row12" transform="translate(0,599.1)"><use href="#g6i" x="12"/><use href="#g6j" x="73.1"/><use href="#g6ah" x="134.2"/><use href="#g6bh" x="195.3"/><use href="#g6ch" x="256.4"/><use href="#o6d" x="317.5" class="o"/><use href="#n6b" x="378.6" class="n"/><use href="#o6a" x="439.7" class="o"/><use href="#n6a" x="500.8" class="n"/><use href="#g6dh" x="561.9"/><use href="#b6a" x="623" class="b"/><use href="#g6eh" x="684.1"/><use href="#g6fh" x="745.2"/><use href="#g6gh" x="806.3"/><use href="#g6hh" x="867.4"/><use href="#g6ih" x="928.5"/><use href="#g6jh" x="989.6"/><use href="#g6a" x="1050.7"/><use href="#g6b" x="1111.8"/><use href="#g6c" x="1172.9"/><use href="#g6d" x="1234"/><use href="#g6e" x="1295.1"/><use href="#g6f" x="1356.2"/><use href="#g6g" x="1417.3"/><use href="#g6h" x="1478.4"/></g>
<g id="row13" transform="translate(0,647.9)"><use href="#g6i" x="12"/><use href="#g6j" x="73.1"/><use href="#g6ah" x="134.2"/><use href="#g6bh" x="195.3"/><use href="#g6ch" x="256.4"/><use href="#g6dh" x="317.5"/><use href="#g6eh" x="378.6"/><use href="#g6fh" x="439.7"/><use href="#g6gh" x="500.8"/><use href="#g6hh" x="561.9"/><use href="#g6ih" x="623"/><use href="#p6a" x="745.2" class="p"/><use href="#g6jh" x="806.3"/><use href="#o6b" x="867.4" class="o"/><use href="#o6c" x="928.5" class="o"/><use href="#n6b" x="989.6" class="n"/><use href="#g7a" x="1172.9"/><use href="#b7a" x="1234" class="b"/><use href="#p7a" x="1295.1" class="p"/><use href="#g7b" x="1417.3"/><use href="#g7c" x="1478.4"/></g>
<g id="row14" transform="translate(0,696.6)"><use href="#g7d" x="12"/><use href="#g7e" x="73.1"/><use href="#g7f" x="134.2"/><use href="#g7g" x="195.3"/><use href="#g7h" x="256.4"/><use href="#g7i" x="317.5"/><use href="#g7j" x="378.6"/><use href="#g7ah" x="439.7"/><use href="#g7bh" x="500.8"/><use href="#g7ch" x="561.9"/><use href="#g7dh" x="623"/><use href="#g7eh" x="684.1"/><use href="#o7a" x="745.2" class="o"/><use href="#g7fh" x="806.3"/><use href="#g7gh" x="867.4"/><use href="#g7hh" x="928.5"/><use href="#g7ih" x="989.6"/><use href="#g7jh" x="1050.7"/><use href="#g7a" x="1111.8"/><use href="#g7b" x="1172.9"/><use href="#g7c" x="1234"/><use href="#g7d" x="1295.1"/><use href="#g7e" x="1356.2"/><use href="#g7f" x="1417.3"/><use href="#g7g" x="1478.4"/></g>
<g id="row15" transform="translate(0,745.4)"><use href="#g7h" x="12"/><use href="#g7i" x="73.1"/><use href="#g7j" x="134.2"/><use href="#g7ah" x="195.3"/><use href="#g7bh" x="256.4"/><use href="#g7ch" x="317.5"/><use href="#g7dh" x="378.6"/><use href="#g7eh" x="439.7"/><use href="#o7b" x="500.8" class="o"/><use href="#g7fh" x="561.9"/><use href="#o7c" x="623" class="o"/><use href="#g7gh" x="745.2"/><use href="#g7hh" x="806.3"/><use href="#g7ih" x="867.4"/><use href="#o7a" x="928.5" class="o"/><use href="#g7jh" x="989.6"/><use href="#g7a" x="1050.7"/><use href="#g7b" x="1111.8"/><use href="#g7c" x="1172.9"/><use href="#o7b" x="1234" class="o"/><use href="#o7c" x="1295.1" class="o"/><use href="#o7a" x="1356.2" class="o"/><use href="#b7b" x="1417.3" class="b"/><use href="#n7a" x="1478.4" class="n"/></g>
<g id="row16" transform="translate(0,794.2)"><use href="#g7d" x="12"/><use href="#p7b" x="73.1" class="p"/><use href="#g7e" x="134.2"/><use href="#g7f" x="195.3"/><use href="#g7g" x="256.4"/><use href="#g7h" x="317.5"/><use href="#g7i" x="378.6"/><use href="#g7j" x="439.7"/><use href="#g7ah" x="500.8"/><use href="#g7bh" x="561.9"/><use href="#o7b" x="623" class="o"/><use href="#o7c" x="684.1" class="o"/><use href="#g7ch" x="806.3"/><use href="#g7dh" x="867.4"/><use href="#g7eh" x="928.5"/><use href="#g7fh" x="989.6"/><use href="#g7gh" x="1050.7"/><use href="#g7hh" x="1111.8"/><use href="#b7a" x="1172.9" class="b"/><use href="#b7b" x="1234" class="b"/><use href="#b7a" x="1295.1" class="b"/><use href="#g7ih" x="1356.2"/><use href="#n7a" x="1417.3" class="n"/><use href="#g7jh" x="1478.4"/></g>
<g id="row17" transform="translate(0,842.9)"><use href="#g7a" x="12"/><use href="#g7b" x="73.1"/><use href="#g7c" x="134.2"/><use href="#g7d" x="195.3"/><use href="#g7e" x="256.4"/><use href="#g7f" x="317.5"/><use href="#g7g" x="378.6"/><use href="#g7h" x="439.7"/><use href="#g7i" x="500.8"/><use href="#g7j" x="561.9"/><use href="#g7ah" x="623"/><use href="#g7bh" x="684.1"/><use href="#g7ch" x="745.2"/><use href="#o7a" x="806.3" class="o"/><use href="#g7dh" x="867.4"/><use href="#p7a" x="928.5" class="p"/><use href="#b7b" x="989.6" class="b"/><use href="#g7eh" x="1050.7"/><use href="#g7fh" x="1111.8"/><use href="#g7gh" x="1172.9"/><use href="#g7hh" x="1234"/><use href="#g7ih" x="1295.1"/><use href="#g7jh" x="1356.2"/><use href="#g7a" x="1417.3"/><use href="#g7b" x="1478.4"/></g>
<g id="row18" transform="translate(0,891.7)"><use href="#g7c" x="12"/><use href="#g7d" x="73.1"/><use href="#g7e" x="134.2"/><use href="#g7f" x="195.3"/><use href="#g7g" x="256.4"/><use href="#g7h" x="317.5"/><use href="#g7i" x="378.6"/><use href="#g7j" x="439.7"/><use href="#g7ah" x="500.8"/><use href="#g7bh" x="561.9"/><use href="#g7ch" x="623"/><use href="#g7dh" x="684.1"/><use href="#g7eh" x="745.2"/><use href="#g7fh" x="806.3"/><use href="#g7gh" x="867.4"/><use href="#g7hh" x="928.5"/><use href="#g7ih" x="989.6"/><use href="#g7jh" x="1050.7"/><use href="#g7a" x="1111.8"/><use href="#g7b" x="1172.9"/><use href="#g7c" x="1234"/><use href="#g7d" x="1295.1"/><use href="#g7e" x="1356.2"/><use href="#g7f" x="1417.3"/><use href="#g7g" x="1478.4"/></g>
<g id="row19" transform="translate(0,940.4)"><use href="#g7h" x="12"/><use href="#g7i" x="73.1"/><use href="#g7j" x="134.2"/><use href="#g7ah" x="195.3"/><use href="#g7bh" x="256.4"/><use href="#g7ch" x="317.5"/><use href="#g7dh" x="378.6"/><use href="#g7eh" x="439.7"/><use href="#g7fh" x="500.8"/><use href="#g7gh" x="561.9"/><use href="#g7hh" x="623"/><use href="#g7ih" x="684.1"/><use href="#g7jh" x="745.2"/><use href="#g7a" x="806.3"/><use href="#g7b" x="867.4"/><use href="#g7c" x="928.5"/><use href="#g7d" x="989.6"/><use href="#g7e" x="1050.7"/><use href="#g7f" x="1111.8"/><use href="#g7g" x="1172.9"/><use href="#g7h" x="1234"/><use href="#g7i" x="1295.1"/><use href="#g7j" x="1356.2"/><use href="#g7ah" x="1417.3"/><use href="#g7bh" x="1478.4"/></g>
<g id="row20" transform="translate(0,989.2)"><use href="#b7a" x="12" class="b"/><use href="#g7ch" x="73.1"/><use href="#b7b" x="134.2" class="b"/><use href="#g7dh" x="195.3"/><use href="#b7a" x="256.4" class="b"/><use href="#b7b" x="317.5" class="b"/><use href="#b7a" x="378.6" class="b"/><use href="#g7eh" x="439.7"/><use href="#g7fh" x="500.8"/><use href="#g7gh" x="561.9"/><use href="#g7hh" x="623"/><use href="#g7ih" x="684.1"/><use href="#g7jh" x="745.2"/><use href="#g7a" x="806.3"/><use href="#g7b" x="867.4"/><use href="#g7c" x="928.5"/><use href="#g7d" x="989.6"/><use href="#g7e" x="1050.7"/><use href="#g7f" x="1111.8"/><use href="#g7g" x="1172.9"/><use href="#g7h" x="1234"/><use href="#g7i" x="1295.1"/><use href="#g7j" x="1356.2"/><use href="#g7ah" x="1417.3"/><use href="#g7bh" x="1478.4"/></g>
<g id="row21" transform="translate(0,1038)"><use href="#g7ch" x="12"/><use href="#g7dh" x="73.1"/><use href="#g7eh" x="134.2"/><use href="#g7fh" x="195.3"/><use href="#g7gh" x="256.4"/><use href="#g7hh" x="317.5"/><use href="#g7ih" x="378.6"/><use href="#g7jh" x="439.7"/><use href="#g7a" x="500.8"/><use href="#g7b" x="561.9"/><use href="#g7c" x="623"/><use href="#g7d" x="684.1"/><use href="#g7e" x="745.2"/><use href="#g7f" x="806.3"/><use href="#g7g" x="867.4"/><use href="#g7h" x="928.5"/><use href="#g7i" x="989.6"/><use href="#g7j" x="1050.7"/><use href="#g7ah" x="1172.9"/><use href="#o7b" x="1234" class="o"/><use href="#b7b" x="1295.1" class="b"/><use href="#p7b" x="1356.2" class="p"/><use href="#g7bh" x="1417.3"/><use href="#g7ch" x="1478.4"/></g>
<g id="row22" transform="translate(0,1086.7)"><use href="#g7dh" x="12"/><use href="#g7eh" x="73.1"/><use href="#g7fh" x="134.2"/><use href="#g7gh" x="195.3"/><use href="#o7c" x="256.4" class="o"/><use href="#g7hh" x="317.5"/><use href="#o7a" x="378.6" class="o"/><use href="#g7ih" x="439.7"/><use href="#g7jh" x="500.8"/><use href="#g7a" x="561.9"/><use href="#g7b" x="623"/><use href="#g7c" x="684.1"/><use href="#n7a" x="745.2" class="n"/><use href="#g7d" x="806.3"/><use href="#g7e" x="867.4"/><use href="#o7b" x="928.5" class="o"/><use href="#n7a" x="989.6" class="n"/><use href="#g7f" x="1050.7"/><use href="#g7g" x="1111.8"/><use href="#g7h" x="1172.9"/><use href="#g7i" x="1234"/><use href="#g7j" x="1295.1"/><use href="#g7ah" x="1356.2"/><use href="#g7bh" x="1417.3"/><use href="#g7ch" x="1478.4"/></g>
<g id="row23" transform="translate(0,1135.5)"><use href="#g7dh" x="12"/><use href="#g7eh" x="73.1"/><use href="#o7c" x="134.2" class="o"/><use href="#g7fh" x="195.3"/><use href="#o7a" x="256.4" class="o"/><use href="#g8a" x="439.7"/><use href="#g8b" x="500.8"/><use href="#g8c" x="561.9"/><use href="#g8d" x="623"/><use href="#g8e" x="684.1"/><use href="#g8f" x="745.2"/><use href="#o8a" x="806.3" class="o"/><use href="#g8g" x="867.4"/><use href="#g8h" x="928.5"/><use href="#g8i" x="989.6"/><use href="#g8j" x="1050.7"/><use href="#g8ah" x="1111.8"/><use href="#g8bh" x="1172.9"/><use href="#g8ch" x="1295.1"/><use href="#o8b" x="1356.2" class="o"/><use href="#g8dh" x="1417.3"/><use href="#o8c" x="1478.4" class="o"/></g>
<g id="row24" transform="translate(0,1184.2)"><use href="#g8eh" x="12"/><use href="#o8a" x="73.1" class="o"/><use href="#g8fh" x="134.2"/><use href="#g8gh" x="195.3"/><use href="#g8hh" x="317.5"/><use href="#g8ih" x="378.6"/><use href="#b8a" x="439.7" class="b"/><use href="#n8a" x="500.8" class="n"/><use href="#g8jh" x="561.9"/><use href="#b8b" x="623" class="b"/><use href="#b8a" x="684.1" class="b"/><use href="#b8b" x="745.2" class="b"/><use href="#p8a" x="806.3" class="p"/><use href="#p8b" x="867.4" class="p"/><use href="#g8a" x="928.5"/><use href="#g8b" x="989.6"/><use href="#g8c" x="1050.7"/><use href="#g8d" x="1111.8"/><use href="#g8e" x="1172.9"/><use href="#g8f" x="1234"/><use href="#g8g" x="1295.1"/><use href="#g8h" x="1356.2"/><use href="#g8i" x="1417.3"/><use href="#g8j" x="1478.4"/></g>
<g id="row25" transform="translate(0,1233)"><use href="#g8ah" x="12"/><use href="#g8bh" x="73.1"/><use href="#b8a" x="134.2" class="b"/><use href="#g8ch" x="195.3"/><use href="#b8b" x="256.4" class="b"/><use href="#g8dh" x="317.5"/><use href="#g8eh" x="378.6"/><use href="#b8a" x="439.7" class="b"/><use href="#g8fh" x="500.8"/><use href="#g8gh" x="561.9"/><use href="#g8hh" x="623"/><use href="#g8ih" x="684.1"/><use href="#g8jh" x="745.2"/><use href="#g8a" x="806.3"/><use href="#g8b" x="867.4"/><use href="#g8c" x="928.5"/><use href="#g8d" x="989.6"/><use href="#g8e" x="1050.7"/><use href="#g8f" x="1111.8"/><use href="#g8g" x="1172.9"/><use href="#g8h" x="1234"/><use href="#g8i" x="1295.1"/><use href="#g8j" x="1356.2"/><use href="#g8ah" x="1417.3"/><use href="#g8bh" x="1478.4"/></g>
<g id="row26" transform="translate(0,1281.8)"><use href="#g8ch" x="12"/><use href="#g8dh" x="73.1"/><use href="#g8eh" x="134.2"/><use href="#g8fh" x="195.3"/><use href="#g8gh" x="256.4"/><use href="#g8hh" x="317.5"/><use href="#g8ih" x="378.6"/><use href="#g8jh" x="439.7"/><use href="#g8a" x="500.8"/><use href="#g8b" x="561.9"/><use href="#g8c" x="623"/><use href="#g8d" x="684.1"/><use href="#g8e" x="745.2"/><use href="#g8f" x="806.3"/><use href="#g8g" x="867.4"/><use href="#g8h" x="928.5"/><use href="#b8b" x="989.6" class="b"/><use href="#g8i" x="1050.7"/><use href="#g8j" x="1111.8"/><use href="#g8ah" x="1172.9"/><use href="#b8a" x="1234" class="b"/><use href="#g8bh" x="1295.1"/><use href="#b8b" x="1356.2" class="b"/><use href="#g8ch" x="1417.3"/><use href="#g8dh" x="1478.4"/></g>
<g id="row27" transform="translate(0,1330.5)"><use href="#g8eh" x="12"/><use href="#g8fh" x="73.1"/><use href="#g8gh" x="134.2"/><use href="#g8hh" x="195.3"/><use href="#g8ih" x="256.4"/><use href="#g8jh" x="317.5"/><use href="#g8a" x="378.6"/><use href="#g8b" x="439.7"/><use href="#g8c" x="500.8"/><use href="#g8d" x="561.9"/><use href="#g8e" x="623"/><use href="#g8f" x="684.1"/><use href="#g8g" x="745.2"/><use href="#g8h" x="806.3"/><use href="#g8i" x="867.4"/><use href="#g8j" x="928.5"/><use href="#g8ah" x="989.6"/><use href="#g8bh" x="1050.7"/><use href="#g8ch" x="1111.8"/><use href="#g8dh" x="1172.9"/><use href="#g8eh" x="1234"/><use href="#g8fh" x="1295.1"/><use href="#g8gh" x="1356.2"/><use href="#g8hh" x="1417.3"/><use href="#g8ih" x="1478.4"/></g>
<g id="row28" transform="translate(0,1379.3)"><use href="#o8b" x="73.1" class="o"/><use href="#g8jh" x="134.2"/><use href="#g8a" x="195.3"/><use href="#g8b" x="256.4"/><use href="#g8c" x="317.5"/><use href="#o8c" x="378.6" class="o"/><use href="#p8a" x="439.7" class="p"/><use href="#b8a" x="500.8" class="b"/><use href="#g8d" x="561.9"/><use href="#n8b" x="623" class="n"/><use href="#p8b" x="684.1" class="p"/><use href="#g8e" x="745.2"/><use href="#g8f" x="806.3"/><use href="#g8g" x="867.4"/><use href="#g8h" x="928.5"/><use href="#g8i" x="989.6"/><use href="#g8j" x="1050.7"/><use href="#g8ah" x="1111.8"/><use href="#g8bh" x="1172.9"/><use href="#g8ch" x="1234"/><use href="#g8dh" x="1295.1"/><use href="#g8eh" x="1356.2"/><use href="#g8fh" x="1417.3"/><use href="#g8gh" x="1478.4"/></g>
<g id="row29" transform="translate(0,1428)"><use href="#g8hh" x="12"/><use href="#g8ih" x="73.1"/><use href="#g8jh" x="134.2"/><use href="#g8a" x="195.3"/><use href="#g8b" x="256.4"/><use href="#g8c" x="317.5"/><use href="#g8d" x="378.6"/><use href="#g8e" x="439.7"/><use href="#g8f" x="500.8"/><use href="#g8g" x="561.9"/><use href="#o8a" x="623" class="o"/><use href="#o8b" x="684.1" class="o"/><use href="#g8h" x="745.2"/><use href="#g8i" x="806.3"/><use href="#g8j" x="867.4"/><use href="#g8ah" x="928.5"/><use href="#g8bh" x="989.6"/><use href="#g8ch" x="1050.7"/><use href="#g8dh" x="1111.8"/><use href="#g8eh" x="1172.9"/><use href="#g8fh" x="1234"/><use href="#g8gh" x="1295.1"/><use href="#g8hh" x="1356.2"/><use href="#g8ih" x="1417.3"/><use href="#g8jh" x="1478.4"/></g>
<g id="row30" transform="translate(0,1476.8)"><use href="#g8a" x="12"/><use href="#g8b" x="73.1"/><use href="#g8c" x="134.2"/><use href="#n8a" x="195.3" class="n"/><use href="#n8b" x="256.4" class="n"/><use href="#g8d" x="317.5"/><use href="#g8e" x="378.6"/><use href="#o8c" x="439.7" class="o"/><use href="#g8f" x="500.8"/><use href="#o8a" x="561.9" class="o"/><use href="#o8b" x="623" class="o"/><use href="#n8a" x="684.1" class="n"/><use href="#g8g" x="745.2"/><use href="#g8h" x="806.3"/><use href="#g8i" x="867.4"/><use href="#g8j" x="928.5"/><use href="#g8ah" x="989.6"/><use href="#g8bh" x="1050.7"/><use href="#g8ch" x="1111.8"/><use href="#g8dh" x="1172.9"/><use href="#g8eh" x="1234"/><use href="#g8fh" x="1295.1"/><use href="#g8gh" x="1356.2"/><use href="#g8hh" x="1417.3"/><use href="#g8ih" x="1478.4"/></g>
<g id="row31" transform="translate(0,1525.6)"><use href="#g8jh" x="12"/><use href="#g8a" x="73.1"/><use href="#g8b" x="134.2"/><use href="#g8c" x="195.3"/><use href="#g8d" x="256.4"/><use href="#o8c" x="317.5" class="o"/><use href="#g8e" x="378.6"/><use href="#g8f" x="439.7"/><use href="#n8b" x="500.8" class="n"/><use href="#n8a" x="561.9" class="n"/><use href="#o8a" x="623" class="o"/><use href="#g9a" x="806.3"/><use href="#o9a" x="867.4" class="o"/><use href="#o9b" x="989.6" class="o"/><use href="#p9a" x="1050.7" class="p"/><use href="#g9b" x="1172.9"/><use href="#g9c" x="1234"/><use href="#g9d" x="1295.1"/><use href="#g9e" x="1356.2"/><use href="#g9f" x="1417.3"/><use href="#g9g" x="1478.4"/></g>
<g id="row32" transform="translate(0,1574.3)"><use href="#g9h" x="12"/><use href="#g9ah" x="73.1"/><use href="#g9bh" x="134.2"/><use href="#g9ch" x="195.3"/><use href="#g9dh" x="256.4"/><use href="#g9eh" x="317.5"/><use href="#g9fh" x="378.6"/><use href="#g9gh" x="439.7"/><use href="#g9hh" x="500.8"/><use href="#g9a" x="561.9"/><use href="#g9b" x="623"/><use href="#b9a" x="684.1" class="b"/><use href="#b9b" x="745.2" class="b"/><use href="#g9c" x="806.3"/><use href="#b9a" x="867.4" class="b"/><use href="#g9d" x="928.5"/><use href="#g9e" x="989.6"/><use href="#g9f" x="1050.7"/><use href="#g9g" x="1111.8"/><use href="#g9h" x="1172.9"/><use href="#g9ah" x="1234"/><use href="#g9bh" x="1356.2"/><use href="#o9c" x="1417.3" class="o"/><use href="#g9ch" x="1478.4"/></g>
<g id="row33" transform="translate(0,1623.1)"><use href="#o9a" x="12" class="o"/><use href="#g9dh" x="73.1"/><use href="#b9b" x="134.2" class="b"/><use href="#g9eh" x="195.3"/><use href="#g9fh" x="256.4"/><use href="#b9a" x="317.5" class="b"/><use href="#n9a" x="378.6" class="n"/><use href="#b9b" x="439.7" class="b"/><use href="#g9gh" x="500.8"/><use href="#o9b" x="561.9" class="o"/><use href="#b9a" x="623" class="b"/><use href="#g9hh" x="684.1"/><use href="#p9b" x="745.2" class="p"/><use href="#g9a" x="806.3"/><use href="#g9b" x="867.4"/><use href="#g9c" x="928.5"/><use href="#g9d" x="989.6"/><use href="#g9e" x="1050.7"/><use href="#g9f" x="1111.8"/><use href="#g9g" x="1172.9"/><use href="#g9h" x="1234"/><use href="#g9ah" x="1295.1"/><use href="#g9bh" x="1356.2"/><use href="#g9ch" x="1417.3"/><use href="#g9dh" x="1478.4"/></g>
<g id="row34" transform="translate(0,1671.8)"><use href="#g9eh" x="12"/><use href="#g9fh" x="73.1"/><use href="#g9gh" x="134.2"/><use href="#g9hh" x="195.3"/><use href="#g9a" x="256.4"/><use href="#g9b" x="317.5"/><use href="#g9c" x="378.6"/><use href="#g9d" x="439.7"/><use href="#g9e" x="500.8"/><use href="#g9f" x="561.9"/><use href="#g9g" x="623"/><use href="#g9h" x="684.1"/><use href="#g9ah" x="745.2"/><use href="#g9bh" x="806.3"/><use href="#g9ch" x="867.4"/><use href="#g9dh" x="928.5"/><use href="#g9eh" x="989.6"/><use href="#g9fh" x="1050.7"/><use href="#g9gh" x="1111.8"/><use href="#g9hh" x="1172.9"/><use href="#g9a" x="1234"/><use href="#g9b" x="1295.1"/><use href="#g9c" x="1356.2"/><use href="#g9d" x="1417.3"/><use href="#g9e" x="1478.4"/></g>
<g id="row35" transform="translate(0,1720.6)"><use href="#g9f" x="12"/><use href="#o9c" x="73.1" class="o"/><use href="#g9g" x="134.2"/><use href="#g9h" x="195.3"/><use href="#g9ah" x="256.4"/><use href="#g9bh" x="317.5"/><use href="#g9ch" x="378.6"/><use href="#o9a" x="439.7" class="o"/><use href="#o9b" x="500.8" class="o"/><use href="#g9dh" x="561.9"/><use href="#g9eh" x="623"/><use href="#o9c" x="684.1" class="o"/><use href="#n9a" x="745.2" class="n"/><use href="#g9fh" x="806.3"/><use href="#g9gh" x="867.4"/><use href="#g9hh" x="928.5"/><use href="#g9a" x="989.6"/><use href="#g9b" x="1050.7"/><use href="#g9c" x="1111.8"/><use href="#g9d" x="1172.9"/><use href="#g9e" x="1234"/><use href="#g10a" x="1417.3"/><use href="#b10a" x="1478.4" class="b"/></g>
<g id="row36" transform="translate(0,1769.4)"><use href="#b10b" x="12" class="b"/><use href="#b10c" x="73.1" class="b"/><use href="#o10a" x="195.3" class="o"/><use href="#g10b" x="256.4"/><use href="#g10c" x="317.5"/><use href="#g10d" x="378.6"/><use href="#b10a" x="439.7" class="b"/><use href="#g10e" x="500.8"/><use href="#n10a" x="561.9" class="n"/><use href="#g10f" x="623"/><use href="#o10b" x="684.1" class="o"/><use href="#p10a" x="745.2" class="p"/><use href="#p10b" x="806.3" class="p"/><use href="#g10g" x="867.4"/><use href="#g10h" x="928.5"/><use href="#g10ah" x="989.6"/><use href="#g10bh" x="1050.7"/><use href="#g10ch" x="1111.8"/><use href="#g10dh" x="1172.9"/><use href="#g10eh" x="1234"/><use href="#g10fh" x="1295.1"/><use href="#g10gh" x="1356.2"/><use href="#g10hh" x="1417.3"/><use href="#g10a" x="1478.4"/></g>
<g id="row37" transform="translate(0,1818.1)"><use href="#g10b" x="12"/><use href="#g10c" x="73.1"/><use href="#g10d" x="134.2"/><use href="#o10c" x="195.3" class="o"/><use href="#g10e" x="256.4"/><use href="#g10f" x="317.5"/><use href="#n10b" x="378.6" class="n"/><use href="#o10a" x="439.7" class="o"/><use href="#n10a" x="500.8" class="n"/><use href="#g11a" x="684.1"/><use href="#o11" x="745.2" class="o"/><use href="#b11" x="806.3" class="b"/><use href="#p11" x="867.4" class="p"/><use href="#g11b" x="928.5"/><use href="#g11c" x="989.6"/><use href="#p12" x="1172.9" class="p"/></g>
</g>
<g id="swatches">
<g transform="translate(73.1,14)"><rect class="sw" width="50" height="37.5"/><rect class="sf" width="50" height="26"/><text class="st" x="1.5" y="35">3x4</text></g>
<g transform="translate(256.4,14)"><rect class="sw" width="50" height="37.5"/><rect class="sf" width="37.5" height="37.5"/><text class="st" x="1.5" y="35">3x3</text></g>
<g transform="translate(378.6,14)"><rect class="sw" width="50" height="37.5"/><rect class="sf" width="50" height="25"/><text class="st" x="1.5" y="35">2x4</text></g>
<g transform="translate(500.8,14)"><rect class="sw" width="50" height="37.5"/><rect class="sf" width="37.5" height="25"/><text class="st" x="1.5" y="35">2x3</text></g>
<g transform="translate(684.1,14)"><rect class="sw" width="50" height="37.5"/><rect class="sf" width="37.5" height="37.5"/><text class="st" x="1.5" y="35">3x3</text></g>
<g transform="translate(806.3,14)"><rect class="sw" width="50" height="37.5"/><rect class="sf" width="50" height="25"/><text class="st" x="1.5" y="35">2x4</text></g>
<g transform="translate(989.6,14)"><rect class="sw" width="50" height="37.5"/><rect class="sf" width="37.5" height="25"/><text class="st" x="1.5" y="35">2x3</text></g>
<g transform="translate(1356.2,14)"><rect class="sw" width="50" height="37.5"/><rect class="sf" width="25" height="25"/><text class="st" x="1.5" y="35">2x2</text></g>
<g transform="translate(1478.4,14)"><rect class="sw" width="50" height="37.5"/><rect class="sf" width="50" height="12.5"/><text class="st" x="1.5" y="35">1x4</text></g>
<g transform="translate(134.2,62.8)"><rect class="sw" width="50" height="37.5"/><rect class="sf" width="37.5" height="37.5"/><text class="st" x="1.5" y="35">3x3</text></g>
<g transform="translate(256.4,62.8)"><rect class="sw" width="50" height="37.5"/><rect class="sf" width="50" height="25"/><text class="st" x="1.5" y="35">2x4</text></g>
<g transform="translate(439.7,62.8)"><rect class="sw" width="50" height="37.5"/><rect class="sf" width="37.5" height="25"/><text class="st" x="1.5" y="35">2x3</text></g>
<g transform="translate(1295.1,62.8)"><rect class="sw" width="50" height="37.5"/><rect class="sf" width="25" height="25"/><text class="st" x="1.5" y="35">2x2</text></g>
<g transform="translate(439.7,111.5)"><rect class="sw" width="50" height="37.5"/><rect class="sf" width="50" height="12.5"/><text class="st" x="1.5" y="35">1x4</text></g>
<g transform="translate(989.6,111.5)"><rect class="sw" width="50" height="37.5"/><rect class="sf" width="50" height="25"/><text class="st" x="1.5" y="35">2x4</text></g>
<g transform="translate(1111.8,111.5)"><rect class="sw" width="50" height="37.5"/><rect class="sf" width="37.5" height="25"/><text class="st" x="1.5" y="35">2x3</text></g>
<g transform="translate(867.4,160.3)"><rect class="sw" width="50" height="37.5"/><rect class="sf" width="25" height="25"/><text class="st" x="1.5" y="35">2x2</text></g>
<g transform="translate(1356.2,209)"><rect class="sw" width="50" height="37.5"/><rect class="sf" width="50" height="12.5"/><text class="st" x="1.5" y="35">1x4</text></g>
<g transform="translate(1111.8,257.8)"><rect class="sw" width="50" height="37.5"/><rect class="sf" width="37.5" height="12.5"/><text class="st" x="1.5" y="35">1x3</text></g>
<g transform="translate(745.2,306.6)"><rect class="sw" width="50" height="37.5"/><rect class="sf" width="37.5" height="25"/><text class="st" x="1.5" y="35">2x3</text></g>
<g transform="translate(1417.3,306.6)"><rect class="sw" width="50" height="37.5"/><rect class="sf" width="25" height="25"/><text class="st" x="1.5" y="35">2x2</text></g>
<g transform="translate(12,452.8)"><rect class="sw" width="50" height="37.5"/><rect class="sf" width="50" height="12.5"/><text class="st" x="1.5" y="35">1x4</text></g>
<g transform="translate(378.6,501.6)"><rect class="sw" width="50" height="37.5"/><rect class="sf" width="37.5" height="12.5"/><text class="st" x="1.5" y="35">1x3</text></g>
<g transform="translate(684.1,647.9)"><rect class="sw" width="50" height="37.5"/><rect class="sf" width="25" height="12.5"/><text class="st" x="1.5" y="35">1x2</text></g>
<g transform="translate(1111.8,647.9)"><rect class="sw" width="50" height="37.5"/><rect class="sf" width="37.5" height="25"/><text class="st" x="1.5" y="35">2x3</text></g>
<g transform="translate(1356.2,647.9)"><rect class="sw" width="50" height="37.5"/><rect class="sf" width="25" height="25"/><text class="st" x="1.5" y="35">2x2</text></g>
<g transform="translate(684.1,745.4)"><rect class="sw" width="50" height="37.5"/><rect class="sf" width="50" height="12.5"/><text class="st" x="1.5" y="35">1x4</text></g>
<g transform="translate(745.2,794.2)"><rect class="sw" width="50" height="37.5"/><rect class="sf" width="37.5" height="12.5"/><text class="st" x="1.5" y="35">1x3</text></g>
<g transform="translate(1111.8,1038)"><rect class="sw" width="50" height="37.5"/><rect class="sf" width="25" height="12.5"/><text class="st" x="1.5" y="35">1x2</text></g>
<g transform="translate(378.6,1135.5)"><rect class="sw" width="50" height="37.5"/><rect class="sf" width="25" height="25"/><text class="st" x="1.5" y="35">2x2</text></g>
<g transform="translate(1234,1135.5)"><rect class="sw" width="50" height="37.5"/><rect class="sf" width="50" height="12.5"/><text class="st" x="1.5" y="35">1x4</text></g>
<g transform="translate(256.4,1184.2)"><rect class="sw" width="50" height="37.5"/><rect class="sf" width="37.5" height="12.5"/><text class="st" x="1.5" y="35">1x3</text></g>
<g transform="translate(12,1379.3)"><rect class="sw" width="50" height="37.5"/><rect class="sf" width="25" height="12.5"/><text class="st" x="1.5" y="35">1x2</text></g>
<g transform="translate(745.2,1525.6)"><rect class="sw" width="50" height="37.5"/><rect class="sf" width="25" height="25"/><text class="st" x="1.5" y="35">2x2</text></g>
<g transform="translate(928.5,1525.6)"><rect class="sw" width="50" height="37.5"/><rect class="sf" width="50" height="12.5"/><text class="st" x="1.5" y="35">1x4</text></g>
<g transform="translate(1111.8,1525.6)"><rect class="sw" width="50" height="37.5"/><rect class="sf" width="37.5" height="12.5"/><text class="st" x="1.5" y="35">1x3</text></g>
<g transform="translate(1295.1,1574.3)"><rect class="sw" width="50" height="37.5"/><rect class="sf" width="25" height="12.5"/><text class="st" x="1.5" y="35">1x2</text></g>
<g transform="translate(1356.2,1720.6)"><rect class="sw" width="50" height="37.5"/><rect class="sf" width="37.5" height="12.5"/><text class="st" x="1.5" y="35">1x3</text></g>
<g transform="translate(134.2,1769.4)"><rect class="sw" width="50" height="37.5"/><rect class="sf" width="25" height="12.5"/><text class="st" x="1.5" y="35">1x2</text></g>
<g transform="translate(623,1818.1)"><rect class="sw" width="50" height="37.5"/><rect class="sf" width="25" height="12.5"/><text class="st" x="1.5" y="35">1x2</text></g>
<g transform="translate(1111.8,1818.1)"><rect class="sw" width="50" height="37.5"/><rect class="sf" width="12.5" height="12.5"/><text class="st" x="1.5" y="35">1x1</text></g>
</g>
<g id="labels">
<g id="sec1" transform="translate(12,14)"><text class="lt" x="1" y="35">1 of</text><text class="big" x="58" y="36.3">1</text></g>
<g id="sec2" transform="translate(195.3,14)"><text class="lt" x="1" y="35">3 of</text><text class="big" x="53" y="36.3">2</text></g>
<g id="sec3" transform="translate(623,14)"><text class="lt" x="1" y="35">10 of</text><text class="big" x="52" y="36.3">3</text></g>
<g id="sec4" transform="translate(73.1,62.8)"><text class="lt" x="1" y="35">33 of</text><text class="big" x="53" y="36.3">4</text></g>
<g id="sec5" transform="translate(928.5,111.5)"><text class="lt" x="1" y="35">90 of</text><text class="big" x="52.5" y="36.3">5</text></g>
<g id="sec6" transform="translate(684.1,306.6)"><text class="lt" x="1" y="35">175 of</text><text class="big" x="52.5" y="36.3">6</text></g>
<g id="sec7" transform="translate(1050.7,647.9)"><text class="lt" x="1" y="35">232 of</text><text class="big" x="52.5" y="36.3">7</text></g>
<g id="sec8" transform="translate(317.5,1135.5)"><text class="lt" x="1" y="35">201 of</text><text class="big" x="52.5" y="36.3">8</text></g>
<g id="sec9" transform="translate(684.1,1525.6)"><text class="lt" x="1" y="35">105 of</text><text class="big" x="52.5" y="36.3">9</text></g>
<g id="sec10" transform="translate(1295.1,1720.6)"><text class="lt" x="1" y="35">35 of</text><text class="big" x="54" y="36.3">10</text></g>
<g id="sec11" transform="translate(561.9,1818.1)"><text class="lt" x="1" y="35">6 of</text><text class="big" x="60.4" y="36.3">11</text></g>
<g id="sec12" transform="translate(1050.7,1818.1)"><text class="lt" x="1" y="35">1 of</text><text class="big" x="51" y="36.3">12</text></g>
</g>
<g id="dots" class="d">
<circle cx="189.7" cy="32.75" r="1.4"/><circle cx="617.4" cy="32.75" r="1.4"/><circle cx="67.5" cy="81.55" r="1.4"/><circle cx="922.9" cy="130.25" r="1.4"/><circle cx="678.5" cy="325.35" r="1.4"/><circle cx="1045.1" cy="666.65" r="1.4"/><circle cx="311.9" cy="1154.25" r="1.4"/><circle cx="678.5" cy="1544.35" r="1.4"/><circle cx="1289.5" cy="1739.35" r="1.4"/><circle cx="556.3" cy="1836.85" r="1.4"/><circle cx="1045.1" cy="1836.85" r="1.4"/>
<circle cx="373" cy="32.75" r="1.4"/><circle cx="495.2" cy="32.75" r="1.4"/><circle cx="800.7" cy="32.75" r="1.4"/><circle cx="984" cy="32.75" r="1.4"/><circle cx="1350.6" cy="32.75" r="1.4"/><circle cx="1472.8" cy="32.75" r="1.4"/><circle cx="250.8" cy="81.55" r="1.4"/><circle cx="434.1" cy="81.55" r="1.4"/><circle cx="1289.5" cy="81.55" r="1.4"/><circle cx="434.1" cy="130.25" r="1.4"/><circle cx="1106.2" cy="130.25" r="1.4"/><circle cx="861.8" cy="179.05" r="1.4"/><circle cx="1350.6" cy="227.75" r="1.4"/><circle cx="1106.2" cy="276.55" r="1.4"/><circle cx="1411.7" cy="325.35" r="1.4"/><circle cx="1530.5" cy="422.85" r="1.4"/><circle cx="373" cy="520.35" r="1.4"/><circle cx="678.5" cy="666.65" r="1.4"/><circle cx="1350.6" cy="666.65" r="1.4"/><circle cx="678.5" cy="764.15" r="1.4"/><circle cx="739.6" cy="812.95" r="1.4"/><circle cx="1106.2" cy="1056.75" r="1.4"/><circle cx="1228.4" cy="1154.25" r="1.4"/><circle cx="250.8" cy="1202.95" r="1.4"/><circle cx="1530.5" cy="1349.25" r="1.4"/><circle cx="922.9" cy="1544.35" r="1.4"/><circle cx="1106.2" cy="1544.35" r="1.4"/><circle cx="1289.5" cy="1593.05" r="1.4"/><circle cx="128.6" cy="1788.15" r="1.4"/>
</g>
</svg>
